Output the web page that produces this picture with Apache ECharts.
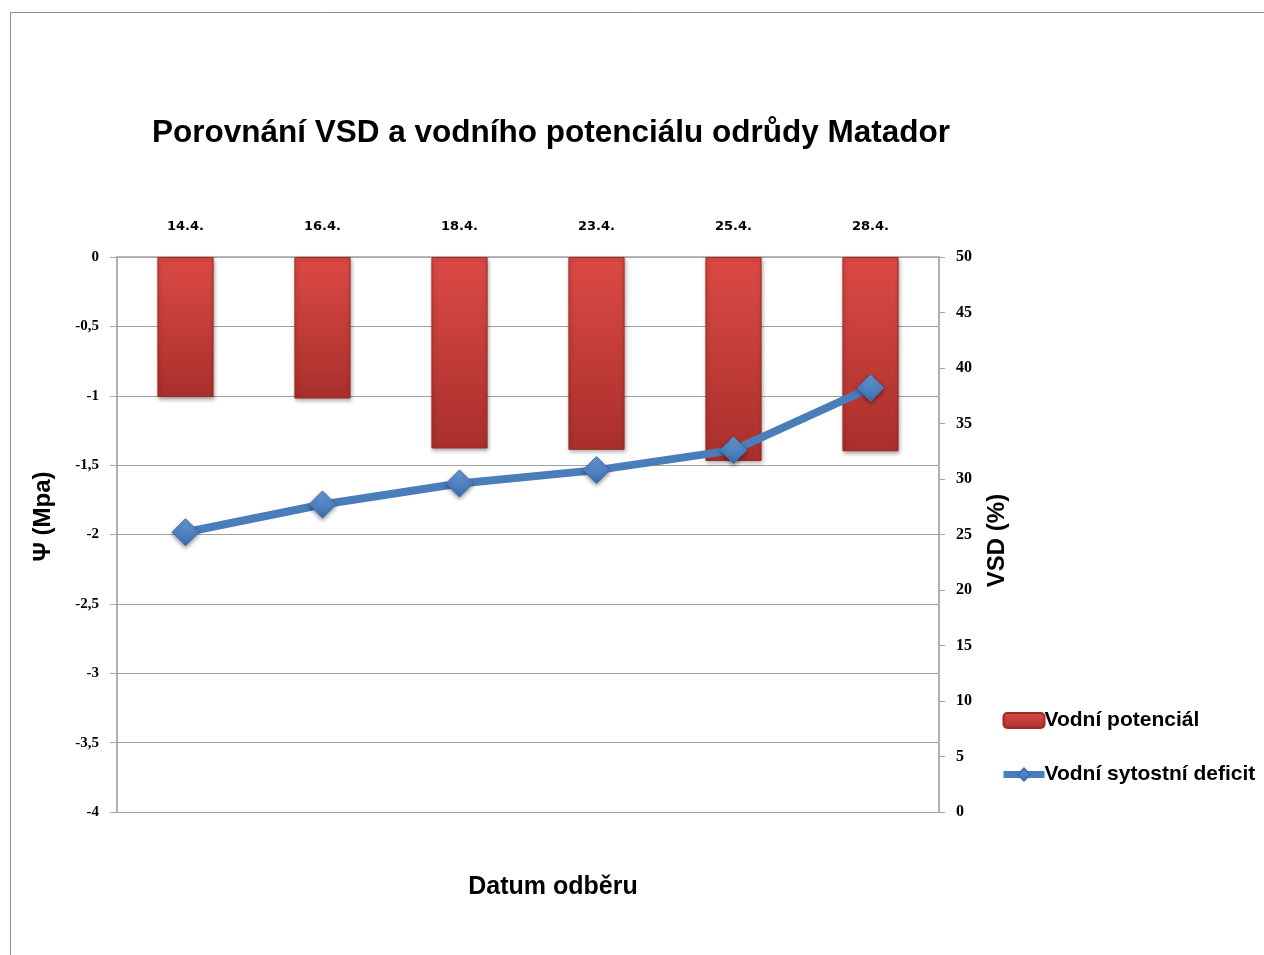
<!DOCTYPE html>
<html>
<head>
<meta charset="utf-8">
<script src="https://cdn.jsdelivr.net/npm/echarts@6/dist/echarts.min.js"></script>
<style>
html,body{margin:0;padding:0;background:#fff;}
#chart{width:1264px;height:955px;}
</style>
</head>
<body>
<div id="chart"></div>
<script>
const categories = ['14.4.', '16.4.', '18.4.', '23.4.', '25.4.', '28.4.'];
const waterPotential = [-1.01, -1.02, -1.38, -1.39, -1.47, -1.40];
const vsd = [25.2, 27.7, 29.6, 30.8, 32.6, 38.2];
const leftTicks = { min: -4, max: 0, interval: 0.5 };
const rightTicks = { min: 0, max: 50, interval: 5 };

const chart = echarts.init(document.getElementById('chart'));
const barGrad = new echarts.graphic.LinearGradient(0, 0, 0, 1, [
  { offset: 0, color: '#dc4a45' },
  { offset: 1, color: '#a92f2b' }
]);
const diamondGrad = new echarts.graphic.LinearGradient(0, 0, 0, 1, [
  { offset: 0, color: '#6a9ad6' },
  { offset: 1, color: '#3a6cad' }
]);
const axisNum = (size) => ({ fontFamily: 'Liberation Serif', fontWeight: 'bold', fontSize: size, color: '#000' });
const nameFont = { fontFamily: 'Liberation Sans', fontWeight: 'bold', fontSize: 24, color: '#000' };

chart.setOption({
  animation: false,
  backgroundColor: '#fff',
  graphic: [{
    type: 'rect', shape: { x: 10.5, y: 12.5, width: 1400, height: 1100 },
    style: { fill: 'none', stroke: '#8c8c8c', lineWidth: 1 }, silent: true, z: -10
  }],
  title: [{
    text: 'Porovnání VSD a vodního potenciálu odrůdy Matador',
    left: 546, top: 112, textAlign: 'center',
    textStyle: { fontFamily: 'Liberation Sans', fontWeight: 'bold', fontSize: 31.5, color: '#000' }
  }, {
    text: 'Datum odběru',
    left: 548, top: 870, textAlign: 'center',
    textStyle: { fontFamily: 'Liberation Sans', fontWeight: 'bold', fontSize: 25, color: '#000' }
  }],
  legend: {
    orient: 'vertical', left: 995, top: 705, itemGap: 33,
    itemWidth: 41, itemHeight: 15,
    textStyle: { fontFamily: 'Liberation Sans', fontWeight: 'bold', fontSize: 21, color: '#000', padding: [0, 0, 0, -5] },
    data: [
      { name: 'Vodní potenciál' },
      { name: 'Vodní sytostní deficit', lineStyle: { width: 7, color: '#4a7ebb' } }
    ]
  },
  grid: { left: 117, right: 325, top: 257, bottom: 143, containLabel: false },
  xAxis: [{
    type: 'category', position: 'top', data: categories,
    axisLine: { lineStyle: { color: '#a6a6a6', width: 1.5 } },
    axisTick: { inside: true, length: 5, lineStyle: { color: '#a6a6a6' } },
    axisLabel: { margin: 24, fontFamily: 'DejaVu Sans', fontWeight: 'bold', fontSize: 13, color: '#000' }
  }, {
    type: 'category', position: 'top', data: categories,
    axisLine: { show: false },
    axisTick: { inside: true, length: 5, alignWithLabel: true, lineStyle: { color: '#a6a6a6' } },
    axisLabel: { show: false }
  }],
  yAxis: [{
    type: 'value', position: 'left',
    min: leftTicks.min, max: leftTicks.max, interval: leftTicks.interval,
    name: 'Ψ (Mpa)', nameLocation: 'middle', nameRotate: 90, nameGap: 62,
    nameTextStyle: Object.assign({ padding: [0, 0, 0, 36] }, nameFont),
    axisLine: { show: true, lineStyle: { color: '#b0b0b0', width: 2 } },
    axisTick: { show: true, length: 7, lineStyle: { color: '#a6a6a6' } },
    axisLabel: Object.assign({ margin: 18, formatter: v => String(v).replace('.', ',') }, axisNum(15)),
    splitLine: { lineStyle: { color: '#a0a0a0', width: 1 } }
  }, {
    type: 'value', position: 'right',
    min: rightTicks.min, max: rightTicks.max, interval: rightTicks.interval,
    name: 'VSD (%)', nameLocation: 'middle', nameRotate: 90, nameGap: 46,
    nameTextStyle: Object.assign({ padding: [0, 12, 0, 0] }, nameFont),
    axisLine: { show: true, lineStyle: { color: '#b0b0b0', width: 2 } },
    axisTick: { show: true, length: 6, lineStyle: { color: '#a6a6a6' } },
    axisLabel: Object.assign({ margin: 17 }, axisNum(16)),
    splitLine: { show: false }
  }],
  series: [{
    name: 'Vodní potenciál', type: 'bar', data: waterPotential,
    xAxisIndex: 0, yAxisIndex: 0, barWidth: '41%',
    itemStyle: {
      color: barGrad, borderColor: '#9e2a27', borderWidth: 1,
      shadowBlur: 4, shadowColor: 'rgba(0,0,0,0.35)', shadowOffsetX: 1, shadowOffsetY: 2
    }
  }, {
    name: 'Vodní sytostní deficit', type: 'line', data: vsd,
    xAxisIndex: 0, yAxisIndex: 1,
    lineStyle: { color: '#4a7ebb', width: 8 },
    symbol: 'diamond', symbolSize: 27,
    itemStyle: { color: diamondGrad, borderColor: '#3d6fb0', borderWidth: 1,
      shadowBlur: 4, shadowColor: 'rgba(0,0,0,0.4)', shadowOffsetY: 2 },
    z: 5
  }]
});
</script>
</body>
</html>
